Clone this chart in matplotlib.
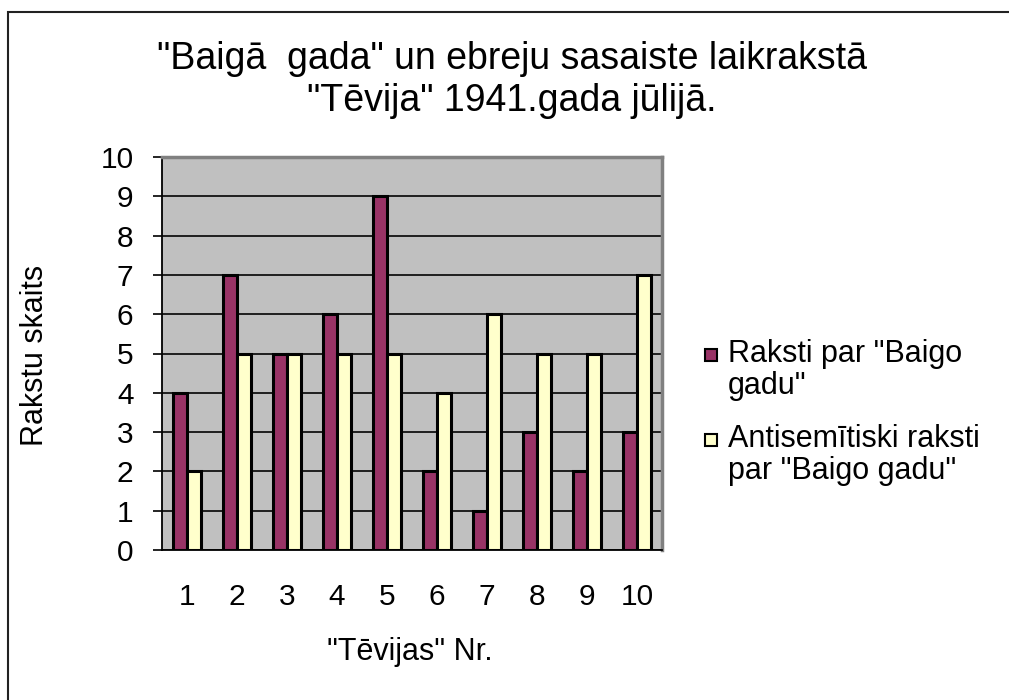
import numpy as np
import matplotlib.pyplot as plt
from matplotlib.patches import Rectangle

plt.rcParams['font.family'] = ['Liberation Sans', 'DejaVu Sans']

# data
issues = ['1', '2', '3', '4', '5', '6', '7', '8', '9', '10']
baigais_gads = [4, 7, 5, 6, 9, 2, 1, 3, 2, 3]
antisemitic = [2, 5, 5, 5, 5, 4, 6, 5, 5, 7]
series_names = ['Raksti par "Baigo\ngadu"', 'Antisemītiski raksti\npar "Baigo gadu"']
colors = ['#993366', '#FFFFCC']

fig = plt.figure(figsize=(10.09, 7.0), dpi=100)
fig.patches.append(Rectangle((8 / 1009, -0.01), 1.01, (700 - 12) / 700 + 0.01,
                             transform=fig.transFigure, fill=False,
                             edgecolor='#222222', linewidth=1.5))

ax = fig.add_axes([162 / 1009, 150 / 700, 500 / 1009, 393 / 700])
ax.set_facecolor('#C0C0C0')

x = np.arange(len(issues))
w = 0.28
ax.bar(x - w / 2, baigais_gads, w, color=colors[0], edgecolor='black', linewidth=2.2, zorder=3)
ax.bar(x + w / 2, antisemitic, w, color=colors[1], edgecolor='black', linewidth=2.2, zorder=3)

ax.set_xlim(-0.5, len(issues) - 0.5)
ax.set_ylim(0, 10)
ax.set_yticks(range(0, 11))
ax.yaxis.grid(True, color='#111111', linewidth=1.3, zorder=0)
ax.set_axisbelow(True)
ax.set_xticks(x)
ax.set_xticklabels(issues)
ax.tick_params(axis='x', length=0, pad=24, labelsize=21.5)
ax.tick_params(axis='y', length=6.5, width=1.2, labelsize=21.5, pad=14)

for side in ['top', 'right']:
    ax.spines[side].set_color('#808080')
    ax.spines[side].set_linewidth(2.5)
for side in ['left', 'bottom']:
    ax.spines[side].set_color('black')
    ax.spines[side].set_linewidth(1.3)

fig.text(410 / 1009, 1 - 652 / 700, '"Tēvijas" Nr.', ha='center', va='center', fontsize=22)
fig.text(35 / 1009, 1 - 355 / 700, 'Rakstu skaits', ha='center', va='center',
         rotation=90, fontsize=22)

fig.text(512 / 1009, 1 - 80 / 700, '"Baigā  gada" un ebreju sasaiste laikrakstā\n"Tēvija" 1941.gada jūlijā.',
         ha='center', va='center', fontsize=27, linespacing=1.2)

# legend drawn by hand so the key sits on the first text line
for i, (name, col) in enumerate(zip(series_names, colors)):
    yc = 355 + i * 85
    fig.patches.append(Rectangle((705 / 1009, 1 - (yc + 6) / 700), 12 / 1009, 12 / 700,
                                 transform=fig.transFigure, facecolor=col,
                                 edgecolor='black', linewidth=1.5))
    fig.text(728 / 1009, 1 - (yc - 16) / 700, name, ha='left', va='top',
             fontsize=22, linespacing=1.1)

fig.savefig('out.png', dpi=100)
